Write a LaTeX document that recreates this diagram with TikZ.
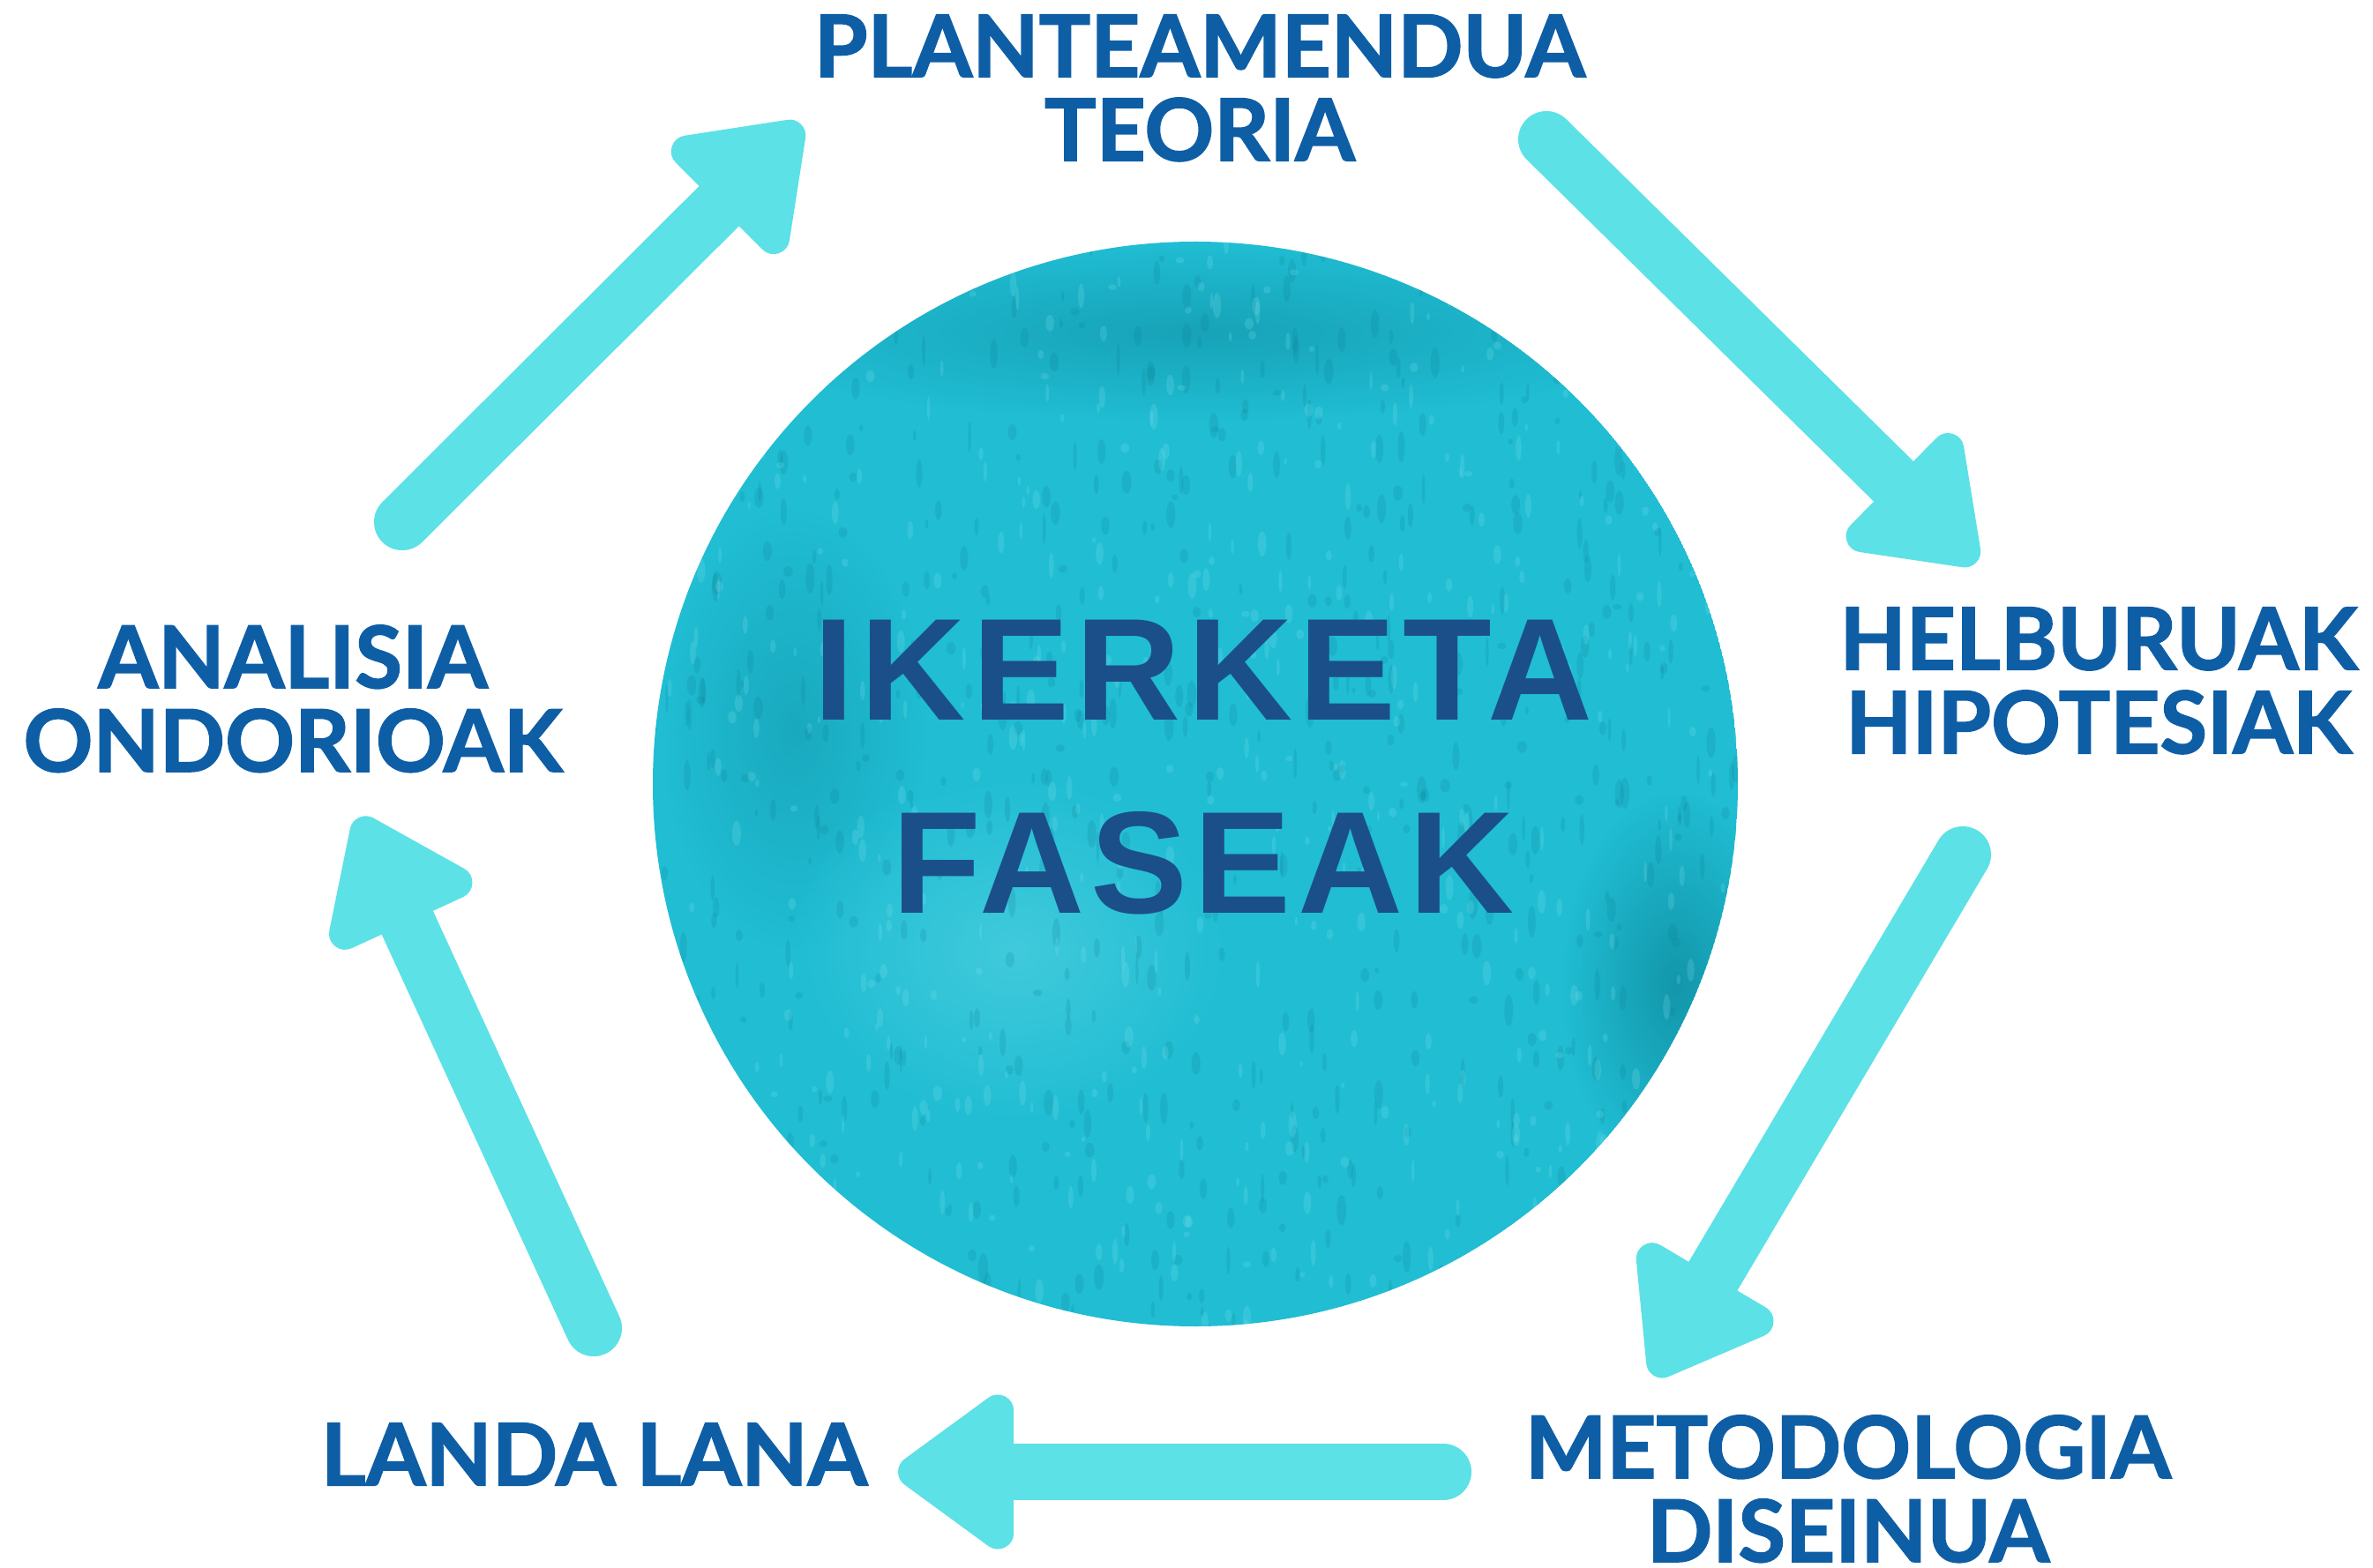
\documentclass[tikz,border=0pt]{standalone}
\usepackage{fontspec}
\usetikzlibrary{arrows.meta}

\newfontfamily\phasefont{Lato}[BoldFeatures={FakeBold=1.6}]
\newfontfamily\corefont{Liberation Sans}[LetterSpace=4.5]

\definecolor{arrowcyan}{HTML}{5CE1E6}
\definecolor{phaseblue}{HTML}{0E5EA6}
\definecolor{coreblue}{HTML}{1B4F8A}
\definecolor{discbase}{HTML}{20BDD3}
\definecolor{discdark}{HTML}{0A7C90}
\definecolor{disclight}{HTML}{7FE3EE}

\tikzset{
  phase/.style={inner sep=0pt, anchor=north, align=center, text=phaseblue,
    font=\phasefont\bfseries\fontsize{27.8}{27}\selectfont},
  core/.style={inner sep=0pt, anchor=north, align=center, text=coreblue,
    font=\corefont\bfseries\fontsize{46.9}{62.3}\selectfont},
  flow/.style={draw=arrowcyan, line width=6.4mm, line cap=round,
    -{Triangle[length=14.5mm, width=20mm, round, line width=4mm]}},
}

\begin{document}
\begin{tikzpicture}

\def\width{26.9}
\def\height{17.77}
\def\cx{13.55}
\def\cy{8.88}
\def\rad{6.15}

\useasboundingbox (0,0) rectangle (\width,\height);
\fill[white] (0,0) rectangle (\width,\height);

% DISC
\begin{scope}
	\clip (\cx,\cy) circle (\rad);
	\fill[discbase] (\cx,\cy) circle (\rad);
	\shade[inner color=discdark, outer color=discbase, opacity=0.6] (19.0,6.6) ellipse (1.3 and 2.2);
	\shade[inner color=discdark, outer color=discbase, opacity=0.4] (\cx,14.0) ellipse (5.5 and 1.0);
	\shade[inner color=discdark, outer color=discbase, opacity=0.3] (9.0,9.5) ellipse (1.5 and 2.5);
	\shade[inner color=disclight, outer color=discbase, opacity=0.35] (11.5,7.0) ellipse (2.5 and 2.0);
	\pgfmathsetseed{17}
	\foreach \i in {1,...,700}{
		\pgfmathsetmacro\px{\cx+6.2*rand}
		\pgfmathsetmacro\py{\cy+6.2*rand}
		\pgfmathsetmacro\sx{0.015+0.04*rnd}
		\pgfmathsetmacro\sy{0.03+0.15*rnd}
		\fill[discdark, opacity=0.18] (\px,\py) ellipse ({\sx} and {\sy});
	}
	\foreach \i in {1,...,600}{
		\pgfmathsetmacro\px{\cx+6.2*rand}
		\pgfmathsetmacro\py{\cy+6.2*rand}
		\pgfmathsetmacro\sx{0.015+0.035*rnd}
		\pgfmathsetmacro\sy{0.03+0.12*rnd}
		\fill[disclight, opacity=0.22] (\px,\py) ellipse ({\sx} and {\sy});
	}
\end{scope}

% LABELS
\node[core] (core) at (13.64,10.75) {IKERKETA\\FASEAK};

\node[phase] (plan) at (13.60,17.61) {PLANTEAMENDUA\\TEORIA};
\node[phase] (helb) at (23.79,10.89) {HELBURUAK\\HIPOTESIAK};
\node[phase] (meto) at (20.95,1.73) {METODOLOGIA\\DISEINUA};
\node[phase] (landa) at (6.735,1.64) {LANDA LANA};
\node[phase] (anal) at (3.32,10.69) {ANALISIA\\ONDORIOAK};

% ARROWS
\coordinate (a1s) at (17.53,16.19);
\coordinate (a1e) at (22.40,11.39);
\coordinate (a2s) at (22.25,8.08);
\coordinate (a2e) at (18.75,2.17);
\coordinate (a3s) at (16.36,1.08);
\coordinate (a3e) at (10.18,1.08);
\coordinate (a4s) at (6.73,2.71);
\coordinate (a4e) at (4.07,8.50);
\coordinate (a5s) at (4.56,11.85);
\coordinate (a5e) at (9.08,16.36);

\draw[flow] (a1s) -- (a1e);
\draw[flow] (a2s) -- (a2e);
\draw[flow] (a3s) -- (a3e);
\draw[flow] (a4s) -- (a4e);
\draw[flow] (a5s) -- (a5e);

\end{tikzpicture}
\end{document}
